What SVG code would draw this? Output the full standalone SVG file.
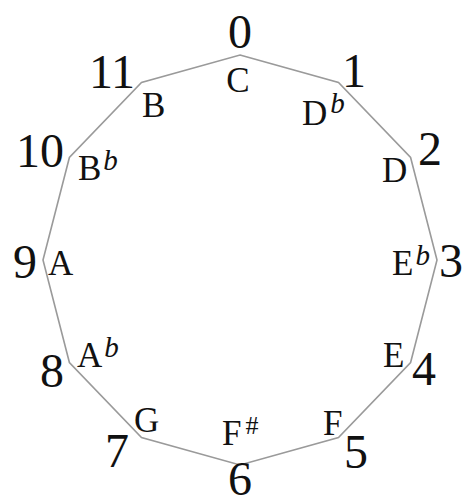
<svg xmlns="http://www.w3.org/2000/svg" width="462" height="504" viewBox="0 0 462 504">
<style>
.num{font-family:"Liberation Serif",serif;font-size:48px;text-anchor:middle;fill:#111}
.note{font-family:"Liberation Serif",serif;font-size:35px;fill:#111}
.mid{text-anchor:middle}
.sup{font-style:italic;font-size:29px}
.sharp{font-size:26px}
.edge{fill:none;stroke:#9a9a9a;stroke-width:1.6;stroke-linejoin:miter}
</style>
<rect width="462" height="504" fill="#fff"/>
<g id="connectors">
<polygon class="edge" points="240,55 338.5,82.5 410.6,157.5 437,260 410.6,362.5 338.5,437.5 240,465 141.5,437.5 69.4,362.5 43,260 69.4,157.5 141.5,82.5"/>
</g>
<g id="n0"><text class="num" x="240" y="48">0</text><text class="note mid" x="238" y="92">C</text></g>
<g id="n1"><text class="num" x="354" y="87">1</text><text class="note" x="302" y="125">D<tspan class="sup" dx="3" dy="-12">b</tspan></text></g>
<g id="n2"><text class="num" x="430" y="165">2</text><text class="note" x="382" y="182">D</text></g>
<g id="n3"><text class="num" x="451" y="277">3</text><text class="note" x="392" y="275">E<tspan class="sup" dx="2" dy="-10">b</tspan></text></g>
<g id="n4"><text class="num" x="424" y="385">4</text><text class="note" x="383" y="367">E</text></g>
<g id="n5"><text class="num" x="356" y="468">5</text><text class="note" x="323" y="435">F</text></g>
<g id="n6"><text class="num" x="240" y="495">6</text><text class="note" x="222" y="445">F<tspan class="sharp" dx="4" dy="-11">#</tspan></text></g>
<g id="n7"><text class="num" x="117" y="467">7</text><text class="note" x="134" y="432">G</text></g>
<g id="n8"><text class="num" x="52" y="387">8</text><text class="note" x="77" y="367">A<tspan class="sup" dx="2" dy="-10">b</tspan></text></g>
<g id="n9"><text class="num" x="25" y="278">9</text><text class="note" x="48" y="275">A</text></g>
<g id="n10"><text class="num" x="40" y="167">10</text><text class="note" x="78" y="180">B<tspan class="sup" dx="2" dy="-10">b</tspan></text></g>
<g id="n11"><text class="num" x="112" y="88">11</text><text class="note" x="142" y="117">B</text></g>
</svg>
